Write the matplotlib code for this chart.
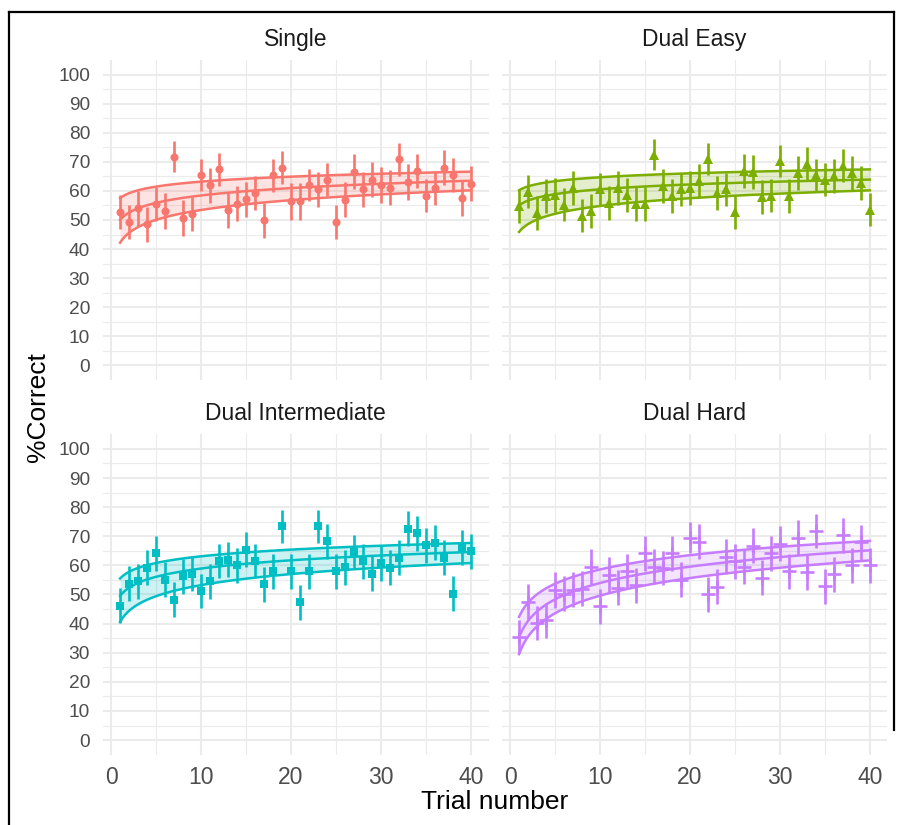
import numpy as np
import matplotlib
matplotlib.use('Agg')
import matplotlib.pyplot as plt
from matplotlib.lines import Line2D

plt.rcParams['font.family'] = ['Liberation Sans', 'DejaVu Sans']

# ---------------- data ----------------
trial = list(range(1, 41))
panel_names = ['Single', 'Dual Easy', 'Dual Intermediate', 'Dual Hard']
panel_colors = ['#F8766D', '#7CAE00', '#00BFC4', '#C77CFF']
panel_markers = ['o', '^', 's', '+']

single_pc = [52.8, 49.3, 54.1, 48.5, 55.6, 53.0, 71.7, 50.7, 52.0, 65.4,
             62.0, 67.4, 53.3, 55.6, 57.1, 59.3, 49.9, 65.4, 68.0, 56.4,
             56.4, 62.0, 60.5, 63.9, 49.3, 57.0, 66.6, 60.5, 63.9, 62.0,
             61.1, 70.9, 63.1, 66.8, 58.3, 61.0, 68.0, 65.4, 57.6, 62.5]
single_err = [5.9, 5.9, 6.0, 5.9, 5.9, 6.2, 5.3, 6.1, 5.9, 5.6,
              6.0, 5.6, 6.0, 6.0, 6.1, 5.7, 6.1, 5.7, 5.7, 6.3,
              6.4, 5.5, 6.1, 5.6, 6.0, 6.0, 6.1, 6.0, 5.9, 6.3,
              6.0, 5.7, 6.3, 5.9, 5.7, 6.0, 5.9, 5.9, 6.1, 5.9]

easy_pc = [54.7, 59.7, 52.4, 58.2, 58.7, 55.3, 61.0, 51.5, 53.0, 60.5,
           55.9, 61.0, 58.5, 55.5, 55.5, 72.5, 61.6, 58.2, 60.5, 61.0,
           63.3, 70.8, 59.3, 60.5, 52.6, 66.8, 66.4, 57.8, 58.4, 70.2,
           58.2, 66.2, 69.4, 65.3, 63.9, 65.1, 68.7, 66.2, 62.8, 53.6]
easy_err = [5.7, 5.6, 5.7, 5.8, 5.8, 5.8, 5.8, 5.8, 5.8, 5.8,
            5.8, 5.8, 5.8, 5.8, 5.8, 5.3, 5.8, 5.8, 5.8, 5.8,
            5.8, 5.5, 5.8, 5.8, 5.8, 5.8, 5.8, 5.8, 5.8, 5.5,
            5.8, 5.8, 5.8, 5.8, 5.8, 5.8, 5.8, 5.8, 5.8, 5.8]

inter_pc = [46.1, 53.7, 54.6, 59.2, 64.2, 55.1, 48.2, 56.2, 57.1, 51.2,
            54.6, 61.5, 61.9, 60.0, 65.4, 61.5, 53.5, 57.9, 73.4, 57.9,
            47.4, 57.9, 73.4, 68.3, 57.9, 59.4, 64.6, 61.4, 57.1, 60.8,
            59.2, 62.6, 72.6, 71.1, 66.9, 67.7, 62.6, 50.3, 66.1, 64.8]
inter_err = [6.0, 6.0, 6.0, 6.0, 6.0, 6.0, 6.0, 6.0, 6.0, 6.0,
             6.0, 6.0, 6.0, 6.0, 6.0, 6.0, 6.0, 6.0, 5.7, 6.0,
             6.0, 6.0, 5.7, 6.0, 6.0, 6.0, 6.0, 6.0, 6.0, 6.0,
             6.0, 6.0, 6.0, 6.0, 6.0, 6.0, 6.0, 6.0, 6.0, 6.0]

hard_pc = [35.5, 47.4, 40.2, 41.1, 51.4, 50.2, 51.6, 51.9, 59.5, 45.9,
           56.8, 52.3, 58.0, 53.1, 64.1, 59.5, 59.1, 64.1, 55.0, 69.5,
           68.2, 50.0, 52.7, 63.0, 61.4, 59.5, 66.7, 55.7, 64.1, 67.5,
           58.0, 69.5, 57.7, 71.8, 52.8, 57.0, 70.3, 60.0, 68.0, 60.0]
hard_err = [5.7, 6.3, 6.0, 6.0, 6.2, 6.0, 6.0, 6.0, 6.0, 6.0,
            6.0, 6.0, 6.0, 6.0, 6.0, 6.0, 6.0, 6.0, 6.0, 5.4,
            6.0, 6.0, 6.0, 6.0, 6.0, 6.0, 6.0, 6.0, 6.0, 6.0,
            6.0, 6.0, 6.0, 5.7, 6.0, 6.0, 6.0, 6.0, 6.0, 6.0]

# fitted model  y = a + b*ln(trial)  (values at trial 1 and slope)
fit_a = [50.0, 55.0, 49.5, 35.3]
fit_b = [3.66, 2.41, 4.09, 8.10]
upper_a = [57.5, 60.2, 55.5, 42.3]
upper_b = [2.47, 1.95, 3.31, 7.08]
lower_a = [42.2, 45.9, 40.6, 29.5]
lower_b = [4.88, 3.87, 5.48, 8.73]

pcs = [single_pc, easy_pc, inter_pc, hard_pc]
errs = [single_err, easy_err, inter_err, hard_err]

# ---------------- figure ----------------
W, H = 897, 825
fig = plt.figure(figsize=(W / 100, H / 100), dpi=100)

positions = [
    [0.1143, 0.5394, 0.4303, 0.3879],
    [0.5591, 0.5394, 0.4303, 0.3879],
    [0.1143, 0.0853, 0.4303, 0.3882],
    [0.5591, 0.0853, 0.4303, 0.3882],
]

grid_col = '#EBEBEB'
tick_col = '#4D4D4D'
xx = np.linspace(1, 40, 300)

for i in range(4):
    ax = fig.add_axes(positions[i])
    col = panel_colors[i]
    ax.set_xlim(-0.95, 41.95)
    ax.set_ylim(-5, 105)
    ax.set_xticks(np.arange(0, 41, 10))
    ax.set_xticks(np.arange(5, 40, 10), minor=True)
    ax.set_yticks(np.arange(0, 101, 10))
    ax.set_yticks(np.arange(5, 100, 10), minor=True)
    ax.grid(which='major', color=grid_col, lw=1.5, zorder=0)
    ax.grid(which='minor', color=grid_col, lw=0.8, zorder=0)
    ax.set_axisbelow(True)
    for s in ax.spines.values():
        s.set_visible(False)
    ax.tick_params(which='both', length=0)
    ax.tick_params(axis='y', labelsize=13.8, labelcolor=tick_col, pad=9)
    ax.tick_params(axis='x', labelsize=16.5, labelcolor=tick_col, pad=8)
    if i % 2 == 1:
        ax.tick_params(axis='y', labelleft=False)
    if i < 2:
        ax.tick_params(axis='x', labelbottom=False)

    fit = fit_a[i] + fit_b[i] * np.log(xx)
    up = upper_a[i] + upper_b[i] * np.log(xx)
    lo = lower_a[i] + lower_b[i] * np.log(xx)
    ax.fill_between(xx, lo, up, color=col, alpha=0.2, lw=0, zorder=2)
    ax.plot(xx, up, color=col, lw=1.8, zorder=3)
    ax.plot(xx, lo, color=col, lw=1.8, zorder=3)
    ax.plot(xx, fit, color=col, lw=1.8, zorder=3)

    y = np.array(pcs[i])
    e = np.array(errs[i])
    ax.vlines(trial, y - e, y + e, color=col, lw=1.9, zorder=4)
    m = panel_markers[i]
    if m == '+':
        ax.plot(trial, y, ls='none', marker='+', ms=10, mew=1.9, color=col, zorder=5)
    elif m == '^':
        ax.plot(trial, y, ls='none', marker='^', ms=7, mew=0, color=col, zorder=5)
    elif m == 's':
        ax.plot(trial, y, ls='none', marker='s', ms=5.5, mew=0, color=col, zorder=5)
    else:
        ax.plot(trial, y, ls='none', marker='o', ms=5.8, mew=0, color=col, zorder=5)

    pos = positions[i]
    fig.text(pos[0] + pos[2] / 2, pos[1] + pos[3] + 20.5 / H, panel_names[i],
             ha='center', va='center', fontsize=16.5, color='#1A1A1A')

fig.text(38 / W, 1 - 407 / H, '%Correct', rotation=90, ha='center', va='center',
         fontsize=19, color='black')
fig.text(495 / W, 1 - 802 / H, 'Trial number', ha='center', va='center',
         fontsize=19, color='black')

# outer frame lines
fig.add_artist(Line2D([9 / W, 9 / W], [0, 1 - 12 / H], transform=fig.transFigure,
                      color='black', lw=1.6))
fig.add_artist(Line2D([9 / W, 894 / W], [1 - 12 / H, 1 - 12 / H], transform=fig.transFigure,
                      color='black', lw=1.6))
fig.add_artist(Line2D([894 / W, 894 / W], [1 - 12 / H, 1 - 730 / H], transform=fig.transFigure,
                      color='black', lw=1.6))

fig.savefig('out.png', dpi=100)
